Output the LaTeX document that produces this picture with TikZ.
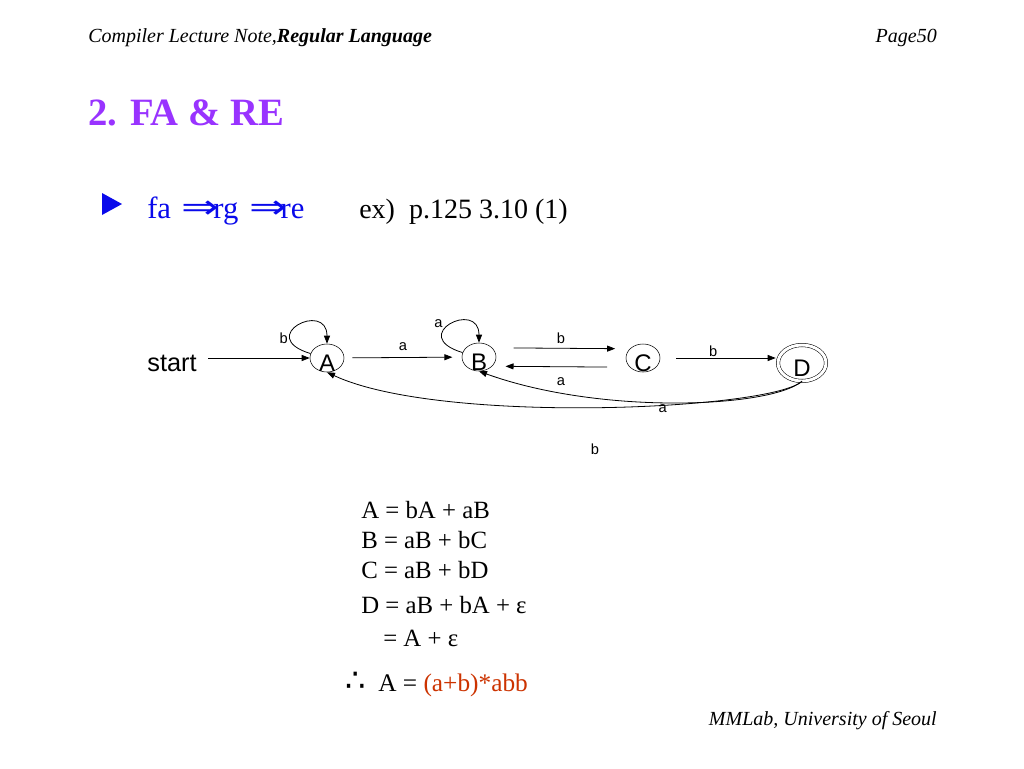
\documentclass[tikz,border=0pt]{standalone}
\usepackage{fontspec}
\setmainfont{Liberation Serif}
\setsansfont{Liberation Sans}
\newfontfamily\symfam{DejaVu Sans}
\usetikzlibrary{arrows.meta,shapes.geometric}

\definecolor{titlepurple}{RGB}{153,51,255}
\definecolor{bulletblue}{RGB}{10,10,235}
\definecolor{answerred}{RGB}{204,51,0}

\tikzset{
  state/.style={draw,ellipse,inner sep=0pt,minimum width=25.5pt,minimum height=21pt,
    font=\sffamily\fontsize{18}{18}\selectfont},
  accept/.style={state,double,double distance=2.2pt,minimum width=36pt,minimum height=27pt},
  trans/.style={-{Triangle[length=6pt,width=4.5pt]},line width=0.6pt},
  elabel/.style={font=\sffamily\fontsize{11}{11}\selectfont,inner sep=1pt},
  eqn/.style={anchor=base west,inner sep=0pt,font=\fontsize{18.6}{18.6}\selectfont},
  slidetext/.style={inner sep=0pt,font=\itshape\fontsize{15}{15}\selectfont},
}
\newcommand{\stlabel}[1]{\raisebox{-0.55em}[0pt][0pt]{#1}}
\newcommand{\implies}{{\symfam\fontsize{25}{25}\selectfont\scalebox{1.35}[1]{⇒}}\kern-0.2em}

\begin{document}
\begin{tikzpicture}[x=0.75pt,y=0.75pt,yscale=-1,xscale=1]
        \fill[white] (0,0) rectangle (1024,768);
        \useasboundingbox (0,0) rectangle (1024,768);
        %Header and footer
        \node[slidetext,anchor=base west] (header) at (88,42) {Compiler Lecture Note,\textbf{Regular Language}};
        \node[slidetext,anchor=base east] (page) at (937,42) {Page50};
        \node[slidetext,anchor=base east] (footer) at (937,725) {MMLab, University of Seoul};
        %Title
        \node[anchor=base west,inner sep=0pt,text=titlepurple,font=\bfseries\fontsize{29}{29}\selectfont] (title) at (88,125) {2. FA \& RE};
        %Bullet line
        \fill[bulletblue] (102,193) -- (122,204) -- (102,215) -- cycle;
        \node[anchor=base west,inner sep=0pt,text=bulletblue,font=\fontsize{23}{23}\selectfont] (flow) at (147,218)
          {fa\hspace{0.35em}\implies rg\hspace{0.35em}\implies re};
        \node[anchor=base west,inner sep=0pt,font=\fontsize{21}{21}\selectfont] (example) at (359,218) {ex)\ \ p.125 3.10 (1)};
        %States
        \node[font=\sffamily\fontsize{19}{19}\selectfont] (start) at (172,363) {start};
        \node[state] (A) at (327,358) {\stlabel{A}};
        \node[state] (B) at (479,357) {\stlabel{B}};
        \node[state] (C) at (643,358) {\stlabel{C}};
        \node[accept] (D) at (802,363) {\stlabel{D}};
        %Transitions
        \draw[trans,shorten <=5pt] (start.east |- A) -- (A);
        \draw[trans] (A.165) .. controls +(-56,-17) and +(0,-44) .. node[elabel,pos=0.25,left] {b} (A.north);
        \draw[trans,shorten <=6pt,shorten >=7pt] (A) -- node[elabel,above=4pt] {a} (B);
        \draw[trans] (B.165) .. controls +(-56,-17) and +(0,-44) .. node[elabel,pos=0.4,above left] {a} (B.north);
        \draw[trans,shorten <=16pt,shorten >=11pt] (B.35) -- node[elabel,above=2pt] {b} (C.145);
        \draw[trans,shorten <=17pt,shorten >=10pt] (C.215) -- node[elabel,below=6.5pt] {a} (B.325);
        \draw[trans,shorten <=12pt,shorten >=1.5pt] (C) -- node[elabel,pos=0.45,above=0pt] {b} (C -| D.west);
        \draw[trans] (D.south) .. controls (770,408) and (600,415) .. node[elabel,pos=0.53,below=0pt] {a} (B.south);
        \draw[trans] (D.south) .. controls (770,410) and (440,425) .. node[elabel,pos=0.5,below=26pt] {b} (A.south);
        %Equations
        \node[eqn] (eqA) at (361,518) {A = bA + aB};
        \node[eqn] (eqB) at (361,548) {B = aB + bC};
        \node[eqn] (eqC) at (361,578) {C = aB + bD};
        \node[eqn] (eqD) at (361,613) {D = aB + bA + ε};
        \node[eqn] (eqD2) at (383,646) {= A + ε};
        \node[eqn,font=\fontsize{19}{19}\selectfont] (result) at (345,691)
          {{\symfam\fontsize{24}{24}\selectfont ∴}\hspace{0.5em}A = \textcolor{answerred}{(a+b)*abb}};
\end{tikzpicture}
\end{document}
